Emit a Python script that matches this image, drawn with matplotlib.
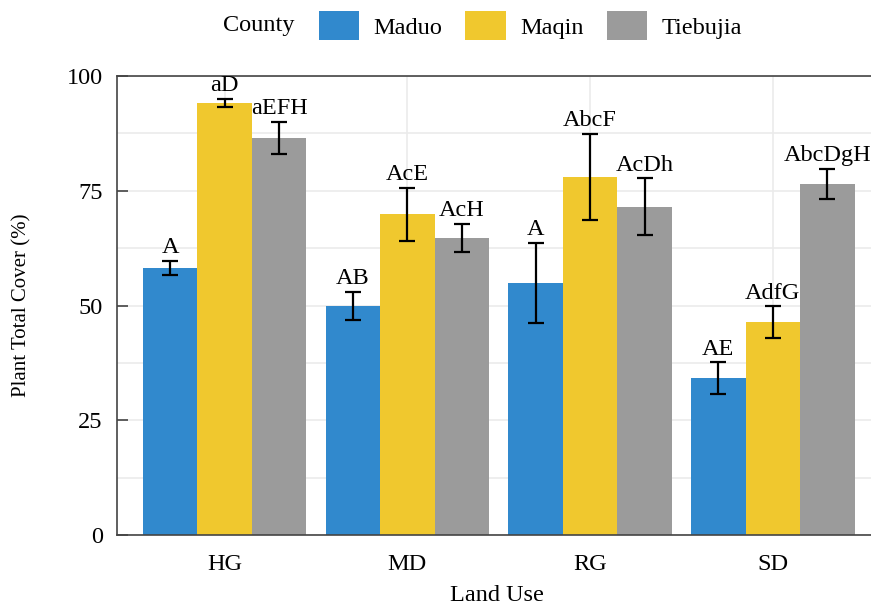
import numpy as np
import matplotlib
matplotlib.use("Agg")
import matplotlib.pyplot as plt
from matplotlib.patches import Patch

plt.rcParams['font.family'] = ['Liberation Serif', 'DejaVu Serif']

land_use = ['HG', 'MD', 'RG', 'SD']
counties = ['Maduo', 'Maqin', 'Tiebujia']
colors = ['#3189CD', '#F0C82E', '#9B9B9B']

cover = {
    'Maduo':    [58.2, 49.9, 54.9, 34.2],
    'Maqin':    [94.1, 69.9, 78.0, 46.4],
    'Tiebujia': [86.5, 64.7, 71.5, 76.5],
}
err = {
    'Maduo':    [1.6, 3.0, 8.7, 3.4],
    'Maqin':    [0.9, 5.8, 9.4, 3.4],
    'Tiebujia': [3.5, 3.0, 6.2, 3.3],
}
letters = {
    'Maduo':    ['A', 'AB', 'A', 'AE'],
    'Maqin':    ['aD', 'AcE', 'AbcF', 'AdfG'],
    'Tiebujia': ['aEFH', 'AcH', 'AcDh', 'AbcDgH'],
}

fs = 17.5

fig = plt.figure(figsize=(8.71, 6.08), dpi=100)
ax = fig.add_axes([0.134, 0.12, 0.866, 0.755])

x = np.arange(len(land_use))
width = 0.298
for i, c in enumerate(counties):
    pos = x + (i - 1) * width
    ax.bar(pos, cover[c], width, color=colors[i], zorder=2)
    ax.errorbar(pos, cover[c], yerr=err[c], fmt='none', ecolor='black',
                elinewidth=1.6, capsize=6, capthick=1.6, zorder=3)
    for p, v, e, t in zip(pos, cover[c], err[c], letters[c]):
        ax.annotate(t, (p, v + e), xytext=(0, 2), textcoords='offset points',
                    ha='center', va='bottom', fontsize=fs)

ax.set_xlim(-0.59, 3.537)
ax.set_ylim(0, 100)
ax.set_yticks([0, 25, 50, 75, 100])
ax.set_yticks([12.5, 37.5, 62.5, 87.5], minor=True)
ax.set_xticks(x)
ax.set_xticklabels(land_use)
ax.tick_params(axis='y', which='major', direction='in', length=8, width=1.2,
               labelsize=fs, pad=10, color='#444444')
ax.tick_params(axis='y', which='minor', length=0)
ax.tick_params(axis='x', length=0, labelsize=fs, pad=14)

ax.grid(True, which='both', color='#EBEBEB', linewidth=1.2, zorder=0)
ax.set_axisbelow(True)
for s in ['left', 'bottom', 'top']:
    ax.spines[s].set_color('#444444')
    ax.spines[s].set_linewidth(1.2)
ax.spines['right'].set_visible(False)

ax.set_xlabel('Land Use', fontsize=fs)
ax.xaxis.set_label_coords(0.504, -0.108)
ax.set_ylabel('Plant Total Cover (%)', fontsize=15)
ax.yaxis.set_label_coords(-0.113, 0.5)

handles = [Patch(facecolor=colors[i], label=c) for i, c in enumerate(counties)]
fig.text(0.256, 0.958, 'County', fontsize=fs, ha='left', va='center')
fig.legend(handles=handles, loc='center left', bbox_to_anchor=(0.366, 0.958),
           ncol=3, frameon=False, fontsize=fs, handlelength=1.65,
           handleheight=1.4, handletextpad=0.6, columnspacing=0.95,
           borderaxespad=0, borderpad=0)

fig.savefig('out.png', dpi=100)
